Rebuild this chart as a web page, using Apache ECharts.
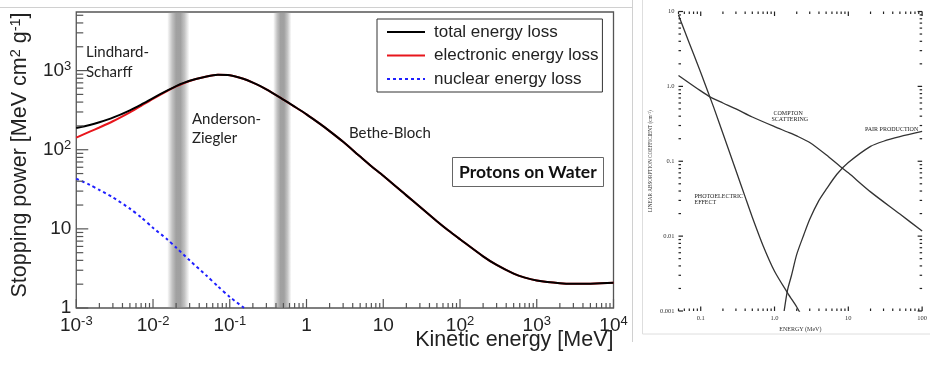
<!DOCTYPE html>
<html>
<head>
<meta charset="utf-8">
<script src="https://cdn.jsdelivr.net/npm/echarts@6/dist/echarts.min.js"></script>
<style>
  html, body { margin: 0; padding: 0; background: #fff; }
  #chart { width: 930px; height: 367px; }
</style>
</head>
<body>
<div id="chart"></div>
<script>
// left panel: protons on water, stopping power vs kinetic energy (MeV)
const energy = [0.001, 0.0015, 0.002, 0.003, 0.005, 0.007, 0.01, 0.015, 0.02, 0.03, 0.05, 0.07, 0.1, 0.15, 0.2, 0.3, 0.5, 0.7,
  1, 1.5, 2, 3, 5, 7, 10, 20, 30, 50, 70, 100, 200, 300, 500, 700, 1000, 2000, 3000, 5000, 10000];
const totalLoss = [188, 205, 222, 254, 315, 372, 449, 554, 637, 743, 843, 885, 875, 790, 705, 580, 430, 350,
  280, 212, 172, 126, 82, 62, 47, 26.5, 19, 12.5, 9.6, 7.4, 4.5, 3.5, 2.72, 2.42, 2.22, 2.05, 2.02, 2.03, 2.08];
const electronicLoss = [142, 169, 191, 229, 297, 358, 439, 546, 631, 739, 840, 883, 873, 789, 704, 579, 429, 349,
  279.5, 212, 172, 126, 82, 62, 47, 26.5, 19, 12.5, 9.6, 7.4, 4.5, 3.5, 2.72, 2.42, 2.22, 2.05, 2.02, 2.03, 2.08];
const nuclearEnergy = [0.001, 0.0015, 0.002, 0.003, 0.005, 0.007, 0.01, 0.015, 0.02, 0.03, 0.05, 0.07, 0.1, 0.15, 0.2];
const nuclearLoss = [43, 36, 31, 25, 18, 14, 10.3, 7.5, 5.8, 4.0, 2.55, 1.88, 1.38, 1.02, 0.82];
const regionBands = [[0.0153, 0.0298], [0.368, 0.635]];

const xTicksL = [0.001, 0.01, 0.1, 1, 10, 100, 1000, 10000];
const xTickLabelsL = ['10^-3', '10^-2', '10^-1', '1', '10', '10^2', '10^3', '10^4'];
const yTicksL = [1, 10, 100, 1000];
const yTickLabelsL = ['1', '10', '10^2', '10^3'];

// right panel: linear absorption coefficient vs photon energy (MeV)
const energyPhoto = [0.05, 0.06, 0.08, 0.1, 0.15, 0.2, 0.3, 0.4, 0.5, 0.7, 1.0, 1.5, 2.0, 2.2];
const photoElectric = [9.0, 5.6, 2.7, 1.53, 0.524, 0.235, 0.0752, 0.0334, 0.0179, 0.00746, 0.0034, 0.00175, 0.00113, 0.00096];
const energyCompton = [0.05, 0.1, 0.135, 0.2, 0.3, 0.5, 1, 1.5, 2, 3, 5, 8, 10, 20, 50, 100];
const compton = [1.40, 0.87, 0.72, 0.60, 0.50, 0.39, 0.29, 0.246, 0.218, 0.178, 0.122, 0.083, 0.070, 0.039, 0.0197, 0.0117];
const energyPair = [1.35, 1.5, 1.7, 2.0, 2.5, 3, 4, 5, 7, 10, 20, 30, 50, 100];
const pairProduction = [0.001, 0.0019, 0.003, 0.0057, 0.0105, 0.0168, 0.030, 0.042, 0.067, 0.096, 0.158, 0.185, 0.213, 0.25];

const xTicksR = [0.1, 1, 2, 10, 100];
const xTickLabelsR = ['0.1', '1.0', '2.0', '10', '100'];
const yTicksR = [0.001, 0.01, 0.1, 1, 10];
const yTickLabelsR = ['0.001', '0.01', '0.1', '1.0', '10'];

const SANS = 'Liberation Sans';
const SERIF = 'Liberation Serif';

function pairs(xs, ys) {
  return xs.map((x, i) => [x, ys[i]]);
}

function lookup(ticks, labels, v) {
  for (let i = 0; i < ticks.length; i++) {
    if (Math.abs(Math.log10(v) - Math.log10(ticks[i])) < 1e-6) return labels[i];
  }
  return null;
}

function supLabel(str) {
  const parts = str.split('^');
  return parts.length > 1 ? '{b|' + parts[0] + '}{s|' + parts[1] + '}' : '{b|' + parts[0] + '}';
}

function decadeValues(lo, hi, minor) {
  const out = [];
  for (let d = Math.floor(Math.log10(lo)) - 1; d <= Math.ceil(Math.log10(hi)); d++) {
    const ms = minor ? [2, 3, 4, 5, 6, 7, 8, 9] : [1];
    ms.forEach(m => {
      const v = m * Math.pow(10, d);
      if (v >= lo * 0.9999 && v <= hi * 1.0001) out.push(v);
    });
  }
  return out;
}

// tick marks drawn through the axes' own scales
function tickSeries(grid, side, values, edge, len, color) {
  return {
    type: 'custom',
    xAxisIndex: grid,
    yAxisIndex: grid,
    silent: true,
    z: 4,
    data: values.map(v => (side === 'bottom' || side === 'top') ? [v, edge] : [edge, v]),
    renderItem: function (params, api) {
      const p = api.coord([api.value(0), api.value(1)]);
      let dx = 0, dy = 0;
      if (side === 'bottom') dy = -len;
      if (side === 'top') dy = len;
      if (side === 'left') dx = len;
      if (side === 'right') dx = -len;
      return {
        type: 'line',
        shape: { x1: p[0], y1: p[1], x2: p[0] + dx, y2: p[1] + dy },
        style: { stroke: color, lineWidth: 1.2 }
      };
    }
  };
}

const richL = {
  b: { fontFamily: SANS, fontSize: 19, lineHeight: 22, color: '#222' },
  s: { fontFamily: SANS, fontSize: 13, verticalAlign: 'top', color: '#222' }
};

const bandColor = new echarts.graphic.LinearGradient(0, 0, 1, 0, [
  { offset: 0, color: 'rgba(145,145,145,0)' },
  { offset: 0.22, color: 'rgba(145,145,145,0.55)' },
  { offset: 0.4, color: 'rgba(140,140,140,0.82)' },
  { offset: 0.6, color: 'rgba(140,140,140,0.82)' },
  { offset: 0.78, color: 'rgba(145,145,145,0.55)' },
  { offset: 1, color: 'rgba(145,145,145,0)' }
]);

const lineBase = { type: 'line', symbol: 'none', showSymbol: false, smooth: 0.25, emphasis: { disabled: true } };

const chart = echarts.init(document.getElementById('chart'), null, { renderer: 'canvas' });

const option = {
  animation: false,
  backgroundColor: '#fff',
  title: {
    text: 'Protons on Water',
    left: 452,
    top: 157,
    padding: [5, 7, 5, 7],
    borderColor: '#666',
    borderWidth: 1,
    backgroundColor: '#fff',
    textStyle: { fontFamily: 'Lato', fontWeight: 'bold', fontSize: 17.5, lineHeight: 20, color: '#111' }
  },
  legend: {
    data: ['total energy loss', 'electronic energy loss', 'nuclear energy loss'],
    orient: 'vertical',
    left: 377,
    top: 19,
    padding: [3, 4, 3, 9],
    itemGap: 3.5,
    itemWidth: 38,
    itemHeight: 14,
    selectedMode: false,
    itemStyle: { opacity: 0 },
    backgroundColor: '#fff',
    borderColor: '#333',
    borderWidth: 1,
    borderRadius: 0,
    textStyle: { fontFamily: SANS, fontSize: 17, lineHeight: 20, color: '#222', padding: [0, 0, 0, 4] }
  },
  grid: [
    { left: 73.5, top: 12, width: 540, height: 296, show: true, borderColor: '#555', borderWidth: 1.3, backgroundColor: 'transparent' },
    { left: 678.5, top: 11.5, width: 247, height: 299.5, show: true, borderColor: '#222', borderWidth: 1.5, backgroundColor: 'transparent' }
  ],
  xAxis: [
    {
      type: 'log', gridIndex: 0, logBase: 10, min: 0.001, max: 10000,
      axisLine: { show: false }, axisTick: { show: false }, splitLine: { show: false },
      axisLabel: {
        margin: 7,
        formatter: v => { const l = lookup(xTicksL, xTickLabelsL, v); return l ? supLabel(l) : ''; },
        rich: richL
      }
    },
    {
      type: 'log', gridIndex: 1, logBase: 10, min: 0.05, max: 100,
      axisLine: { show: false }, axisTick: { show: false }, splitLine: { show: false },
      axisLabel: {
        margin: 3.5,
        fontFamily: SERIF, fontSize: 6.5, color: '#333',
        formatter: v => { const l = lookup(xTicksR, xTickLabelsR, v); return l ? l : ''; }
      },
      name: 'ENERGY (MeV)',
      nameLocation: 'middle',
      nameGap: 10,
      nameTextStyle: { fontFamily: SERIF, fontSize: 6, color: '#333' }
    }
  ],
  yAxis: [
    {
      type: 'log', gridIndex: 0, logBase: 10, min: 1, max: 5500,
      axisLine: { show: false }, axisTick: { show: false }, splitLine: { show: false },
      axisLabel: {
        margin: 5,
        formatter: v => { const l = lookup(yTicksL, yTickLabelsL, v); return l ? supLabel(l) : ''; },
        rich: richL
      },
      name: 'Stopping power [MeV cm{s|2} g{s|-1}]',
      nameLocation: 'middle',
      nameGap: 37,
      nameTextStyle: {
        fontFamily: SANS, fontSize: 21.5, lineHeight: 24, color: '#222', padding: [0, 0, 0, 10],
        rich: { s: { fontFamily: SANS, fontSize: 14.5, verticalAlign: 'top', color: '#222' } }
      }
    },
    {
      type: 'log', gridIndex: 1, logBase: 10, min: 0.001, max: 10,
      axisLine: { show: false }, axisTick: { show: false }, splitLine: { show: false },
      axisLabel: {
        margin: 4,
        fontFamily: SERIF, fontSize: 6.5, color: '#333',
        formatter: v => { const l = lookup(yTicksR, yTickLabelsR, v); return l ? l : ''; }
      },
      name: 'LINEAR ABSORPTION COEFFICIENT (cm{s|-1})',
      nameLocation: 'middle',
      nameGap: 24,
      nameTextStyle: {
        fontFamily: SERIF, fontSize: 5.2, lineHeight: 7, color: '#333',
        rich: { s: { fontFamily: SERIF, fontSize: 4, verticalAlign: 'top', color: '#333' } }
      }
    }
  ],
  graphic: [
    { type: 'line', silent: true, shape: { x1: 0, y1: 7.5, x2: 632, y2: 7.5 }, style: { stroke: '#d0d0d0', lineWidth: 1 } },
    { type: 'line', silent: true, shape: { x1: 632.5, y1: 0, x2: 632.5, y2: 342 }, style: { stroke: '#d0d0d0', lineWidth: 1 } },
    { type: 'rect', silent: true, shape: { x: 642.5, y: -2, width: 300, height: 336 }, style: { fill: '#fff', stroke: '#dedede', lineWidth: 1 } },
    { type: 'text', x: 613.5, y: 340, style: { text: 'Kinetic energy [MeV]', font: '21.5px "Liberation Sans"', fill: '#222', align: 'right', verticalAlign: 'middle' } },
    { type: 'text', x: 86, y: 52, style: { text: 'Lindhard-', font: '15px Lato', fill: '#222', verticalAlign: 'middle' } },
    { type: 'text', x: 86, y: 72, style: { text: 'Scharff', font: '15px Lato', fill: '#222', verticalAlign: 'middle' } },
    { type: 'text', x: 192, y: 119, style: { text: 'Anderson-', font: '15px Lato', fill: '#222', verticalAlign: 'middle' } },
    { type: 'text', x: 192, y: 138, style: { text: 'Ziegler', font: '15px Lato', fill: '#222', verticalAlign: 'middle' } },
    { type: 'text', x: 349, y: 133, style: { text: 'Bethe-Bloch', font: '15px Lato', fill: '#222', verticalAlign: 'middle' } },
    { type: 'text', x: 773.5, y: 113.5, style: { text: 'COMPTON', font: '6px "Liberation Serif"', fill: '#222', verticalAlign: 'middle' } },
    { type: 'text', x: 771.5, y: 119.5, style: { text: 'SCATTERING', font: '6px "Liberation Serif"', fill: '#222', verticalAlign: 'middle' } },
    { type: 'text', x: 865, y: 129.5, style: { text: 'PAIR PRODUCTION', font: '6px "Liberation Serif"', fill: '#222', verticalAlign: 'middle' } },
    { type: 'text', x: 694.5, y: 196.5, style: { text: 'PHOTOELECTRIC', font: '6px "Liberation Serif"', fill: '#222', verticalAlign: 'middle' } },
    { type: 'text', x: 694.5, y: 202.5, style: { text: 'EFFECT', font: '6px "Liberation Serif"', fill: '#222', verticalAlign: 'middle' } }
  ],
  series: [
    Object.assign({}, lineBase, {
      name: 'nuclear energy loss',
      xAxisIndex: 0, yAxisIndex: 0,
      data: pairs(nuclearEnergy, nuclearLoss),
      lineStyle: { color: '#1f1fff', width: 2, type: [3, 3] },
      itemStyle: { color: '#1f1fff', opacity: 0 },
      markArea: {
        silent: true,
        itemStyle: { color: bandColor, opacity: 1 },
        label: { show: false },
        data: regionBands.map(b => [{ xAxis: b[0] }, { xAxis: b[1] }])
      }
    }),
    Object.assign({}, lineBase, {
      name: 'electronic energy loss',
      xAxisIndex: 0, yAxisIndex: 0,
      data: pairs(energy, electronicLoss),
      lineStyle: { color: '#e8161c', width: 2 },
      itemStyle: { color: '#e8161c', opacity: 0 }
    }),
    Object.assign({}, lineBase, {
      name: 'total energy loss',
      xAxisIndex: 0, yAxisIndex: 0,
      data: pairs(energy, totalLoss),
      lineStyle: { color: '#000', width: 2 },
      itemStyle: { color: '#000', opacity: 0 }
    }),
    Object.assign({}, lineBase, {
      name: 'photoelectric effect',
      xAxisIndex: 1, yAxisIndex: 1,
      data: pairs(energyPhoto, photoElectric),
      lineStyle: { color: '#333', width: 1.3 }
    }),
    Object.assign({}, lineBase, {
      name: 'compton scattering',
      xAxisIndex: 1, yAxisIndex: 1,
      data: pairs(energyCompton, compton),
      lineStyle: { color: '#333', width: 1.3 }
    }),
    Object.assign({}, lineBase, {
      name: 'pair production',
      xAxisIndex: 1, yAxisIndex: 1,
      data: pairs(energyPair, pairProduction),
      lineStyle: { color: '#333', width: 1.3 }
    }),
    // left panel ticks (bottom and left only)
    tickSeries(0, 'bottom', decadeValues(0.001, 10000, false), 1, 9, '#555'),
    tickSeries(0, 'bottom', decadeValues(0.001, 10000, true), 1, 5, '#555'),
    tickSeries(0, 'left', decadeValues(1, 5500, false), 0.001, 12, '#555'),
    tickSeries(0, 'left', decadeValues(1, 5500, true), 0.001, 7, '#555'),
    // right panel ticks on all four sides
    tickSeries(1, 'bottom', decadeValues(0.05, 100, false), 0.001, 4.5, '#222'),
    tickSeries(1, 'bottom', decadeValues(0.05, 100, true), 0.001, 2.5, '#222'),
    tickSeries(1, 'top', decadeValues(0.05, 100, false), 10, 4.5, '#222'),
    tickSeries(1, 'top', decadeValues(0.05, 100, true), 10, 2.5, '#222'),
    tickSeries(1, 'left', decadeValues(0.001, 10, false), 0.05, 4.5, '#222'),
    tickSeries(1, 'left', decadeValues(0.001, 10, true), 0.05, 2.5, '#222'),
    tickSeries(1, 'right', decadeValues(0.001, 10, false), 100, 4.5, '#222'),
    tickSeries(1, 'right', decadeValues(0.001, 10, true), 100, 2.5, '#222')
  ]
};

chart.setOption(option);
</script>
</body>
</html>
